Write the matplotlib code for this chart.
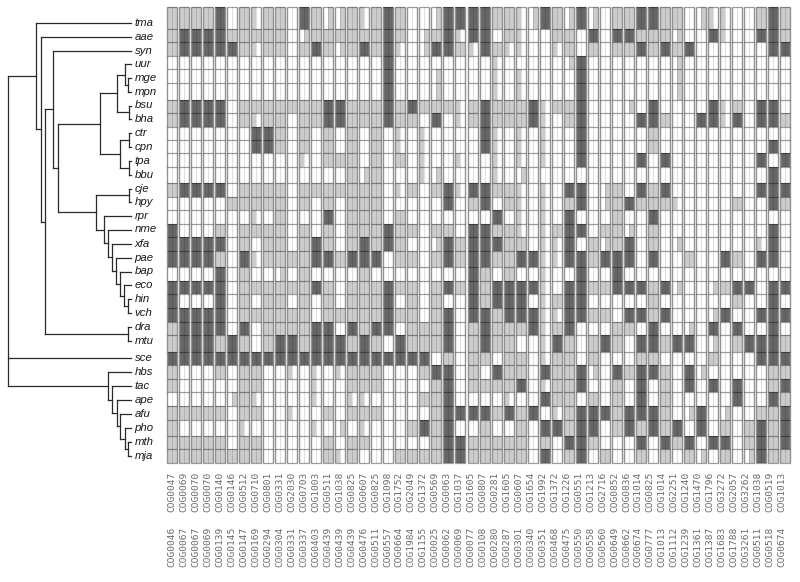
import matplotlib
matplotlib.use("Agg")
import matplotlib.pyplot as plt
import numpy as np
from matplotlib.colors import ListedColormap

# ---- data ----
taxa = ["tma","aae","syn","uur","mge","mpn","bsu","bha","ctr","cpn","tpa","bbu","cje","hpy","rpr","nme",
        "xfa","pae","bap","eco","hin","vch","dra","mtu","sce","hbs","tac","ape","afu","pho","mth","mja"]
cog_upper = ("0047 0069 0070 0070 0140 0146 0512 0710 0801 0331 2030 0703 1003 0511 1038 0825 0607 0825 1098 1752 "
             "2049 1372 0569 0063 1037 1605 0807 0281 1605 0607 1654 1992 1372 1226 0551 1213 2716 0852 0836 1014 "
             "0825 1014 2251 1240 1470 1796 3272 2057 3262 1038 0519 1013").split()
cog_lower = ("0046 0067 0067 0069 0139 0145 0147 0169 0294 0304 0331 0337 0403 0439 0439 0439 0476 0511 0557 0664 "
             "1984 1155 0025 0062 0069 0077 0108 0280 0287 0301 0340 0351 0468 0475 0550 0558 0560 0649 0662 0674 "
             "0777 1013 1112 1239 1361 1387 1683 1788 3261 0511 0518 0674").split()
# '.' absent, L both halves light, l left half light, r right half light, D dark
cols_a = ["LLLLD.LlLL.DLrrLlL","LDDDDLLLLL.rLLLLLL","LDDDDDLlLL.LDLrLDL","..................",
          "..................","..................","LDDDD.LLLLLLLDDLLL","LDDDD.LlLL.LLDDLLL",
          ".......DDL.L.L.L.L",".......DDL.L.L.L.L","...........l.LLL.L","...............LrL",
          "LDDDD.LLLL.LLLLLLL",".....LLLLL.L.L.LLL",".......l.L...D.LLL","D...L.LLLL.L.L.LLL",
          "DDDDD.L.LL.LDL.LDL","DDDDL.DlLLLLDDLDDD","....D.L..r.L....L.","DDDDD.LLLLLLDL.LLL",
          "D...D.L.LL.L.L.LLL","DDDDD.LLLLLL.LLLLL","LDDDD.D.LLLLDD.DLD","LDDDLDL.LDDLDDDLDL",
          "DDDDDDDDDDDDDDDDDD","L...L.LL..l.l.lLLL","L.....LL....l..LLL",".....rLl....l..ll.",
          "LLLLL.LL..l..L.LLL","L.....l.....l.r.l.","LLLLL.LL.....L.LL.","LLLLLLLL.....LlL.."]
cols_b = ["DL..rDDDDLLlrDLrD","DL.rLDlDD.Ll..LL.","Dl.rDDLlDLll..lL.","D........l.....rD",
          "D...r....l.l....D","D...r....l.l....D","DLDLLLlLDLLLDlLLD","DLL.D.lLDLLLDl.LD",
          ".l.l....Dl.l.l..D",".l.l....Dl.l.l..D",".L.l..l..l.l.l..D","...lr....l.r.....",
          ".lL.LDlDDLLl.l.DD",".....D.LD.Ll.l.LD",".L.......D.l.l.D.","DLL.LL.DDLLl.lLDD",
          "DL..rDLDDDLL.llD.",".LL.LDLDDLLDDllDD",".......DL.L..l..D","DLL.LDLDLDDDDl.DD",
          "D.L.L..DLDDD.lLDD","DLL.LD.DDLDDDllDD","D.LLLD.LDLLLDlLD.",".DLLLD.LDLL..lDL.",
          "DDDD.L.LL.LL.lLL.","...LDD.L.DLL.DLLD","....LD.LLLLD.lLLD","...LLD....l..DLL.",
          "....LDDDDLDLD.lLD","..LDLD..L..L.DDLD","....LDDLLLLL.L.DD",".LLLLDDLLLLL.D.LD"]
cols_c = ["r.LLDDLL.rll..LDL","D.DDLLLr..Dl..DDL","L.LLDLDLD......DD",".......r.........",
          ".......r.........",".......r.........","...r.D....DlL.DD.","....DDL..DDlD.DDL",
          ".....L...........",".....L.........D.","....D.D.......D.D","...............D.",
          ".rL.DLD.......DDD",".rLDLLLl....L..DL","..L..D...........",".LLr.L.........D.",
          "LrLD.L.r......lD.","LDDD.D..L..DL.DD.","..D..............","LLDDDLDr..rLDD.DD",
          ".....L......L..D.","LL.DDLD...rD..DDD","..LL.D..r.D.D..D.","LDL.DDLDD.r.LDDDL",
          "L...LL....L...DDD","r.DLDDL.Dr.....LL","..L.D.L.D.D.D..LD","L.L.D.L.....D..DL",
          "DDLDDDL.rD.r..LLD","D.LDLDLD.D.L.LDLD","L...D.DLD.DD.LDLD",".L..L.L.Lr.L.rDLL"]
# phylogeny: (node position, children...) ; a string is a tip
tree = (8,
        (36, "tma",
         (41, "aae",
          (45,
           (53, "syn",
            (58,
             (100,
              (116.5, (125, "uur", (128, "mge", "mpn")), (129, "bsu", "bha")),
              (120, (129, "ctr", "cpn"), (129, "tpa", "bbu"))),
             (96, (129, "cje", "hpy"),
              (104, "rpr",
               (108, "nme",
                (112, "xfa",
                 (116, "pae",
                  (120, "bap",
                   (124, "eco", (128, "hin", "vch"))))))))) ),
           (128, "dra", "mtu")))),
        "sce",
        (108, "hbs",
         (112, "tac",
          (117, "ape",
           (120, "afu",
            (124.5, "pho", (128, "mth", "mja")))))))

# ---- layout ----
row_edges = [7,29,42,56,69,83,100,113,127,140,153,167,183,197,210,224,237,251,267,281,294,308,322,335,352,
             365,379,392,406,420,436,449,463]
tip_y = [23,37,50.5,64,78,92,105.5,119,133,147,161,174.5,188.5,202,216,229.5,244,258,271.5,285,299,313,327,340.5,
         358,372,386,400,414,428,442,456]
col_x0, col_step, col_w = 167.0, 12.02, 10.0
tip_end = 130.5

fig = plt.figure(figsize=(8, 5.82), dpi=100)
ax = fig.add_axes([0, 0, 1, 1])
ax.set_xlim(0, 800); ax.set_ylim(582, 0); ax.axis("off")

# heat grid
code = {".": (0, 0), "L": (1, 1), "l": (1, 0), "r": (0, 1), "D": (2, 2)}
rows = [a + b + c for a, b, c in zip(cols_a, cols_b, cols_c)]
M = np.array([[code[ch] for ch in r] for r in rows])  # rows, cols, halves
cmap = ListedColormap(["#ffffff", "#cccccc", "#666666"])
for j in range(M.shape[1]):
    x0 = col_x0 + j * col_step
    xs = [x0, x0 + col_w / 2, x0 + col_w]
    ax.pcolormesh(xs, row_edges, M[:, j, :], cmap=cmap, vmin=-0.5, vmax=2.5, shading="flat", linewidth=0)
    ax.vlines(x0 + col_w / 2, row_edges[0], row_edges[-1], color="black", lw=0.7, alpha=0.13)
    ax.vlines([x0, x0 + col_w], row_edges[0], row_edges[-1], color="#939393", lw=1.0)
    ax.hlines(row_edges, x0, x0 + col_w, color="black", lw=0.9, alpha=0.38)

# tree
tip_lookup = dict(zip(taxa, tip_y))
def draw(node):
    if isinstance(node, str):
        return tip_lookup[node], tip_end
    x = node[0]
    ends = []
    for child in node[1:]:
        y, cx = (tip_lookup[child], tip_end) if isinstance(child, str) else draw(child)
        ax.plot([x, cx], [y, y], color="#2a2a2a", lw=0.9, solid_capstyle="projecting")
        ends.append(y)
    ax.plot([x, x], [min(ends), max(ends)], color="#2a2a2a", lw=0.9, solid_capstyle="projecting")
    return (ends[0] + ends[-1]) / 2, x
draw(tree)

for name, y in zip(taxa, tip_y):
    ax.text(134.5, y, name, style="italic", family="Liberation Sans", fontsize=8.2,
            va="center", ha="left", color="#1a1a1a")

for j, (u, l) in enumerate(zip(cog_upper, cog_lower)):
    x = 172.3 + j * 11.95
    ax.text(x, 512, "COG" + u, rotation=90, family="DejaVu Sans Mono", fontsize=6.8,
            va="bottom", ha="center", color="#6a6a6a")
    ax.text(x, 567, "COG" + l, rotation=90, family="DejaVu Sans Mono", fontsize=6.8,
            va="bottom", ha="center", color="#6a6a6a")

fig.savefig("out.png", dpi=100)
